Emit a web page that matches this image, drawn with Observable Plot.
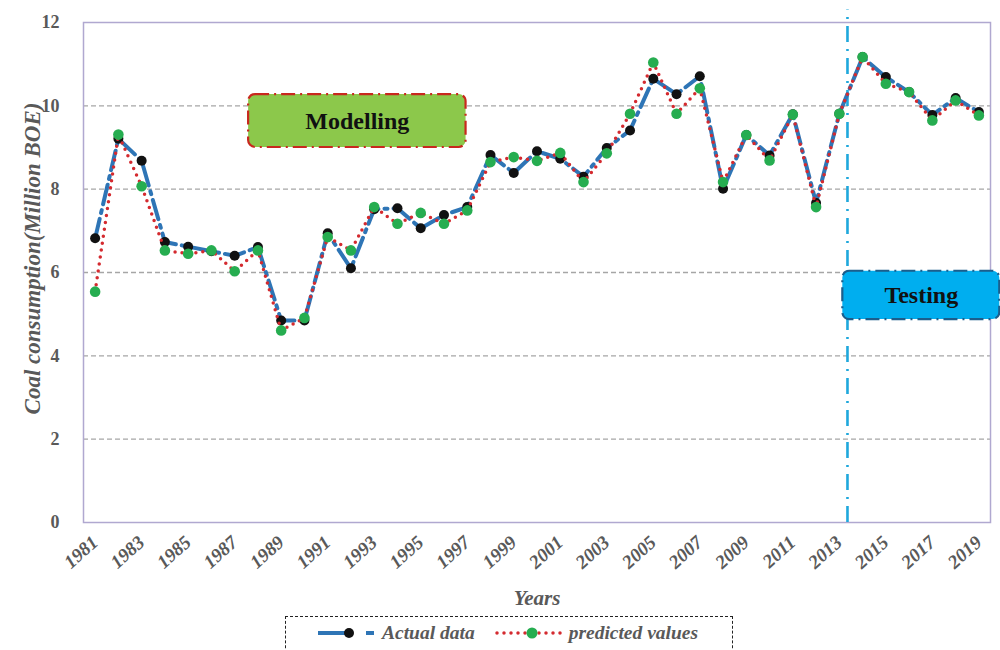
<!DOCTYPE html>
<html><head><meta charset="utf-8">
<script src="https://cdn.jsdelivr.net/npm/d3@7"></script>
<script src="https://cdn.jsdelivr.net/npm/@observablehq/plot@0.6"></script>
<style>
body{margin:0;background:#fff;font-family:"Liberation Serif","Times New Roman",serif;}
#wrap{position:relative;width:1000px;height:650px;overflow:hidden;}
#legend{position:absolute;left:285px;top:616px;width:448px;height:42px;border:1.6px dashed #222;box-sizing:border-box;display:flex;align-items:flex-start;padding-top:5px;font-style:italic;font-weight:bold;color:#595959;font-size:19.5px;}
#legend .item{display:flex;align-items:center;}
</style></head><body>
<div id="wrap">
<div id="chart"></div>
<div id="legend">
  <div class="item" style="margin-left:30px"><svg width="64" height="14"><line x1="2" y1="7" x2="30" y2="7" stroke="#2e75b6" stroke-width="4"/><circle cx="33" cy="7" r="5" fill="#111"/><line x1="50" y1="7" x2="58" y2="7" stroke="#2e75b6" stroke-width="4"/></svg><span style="margin-left:2px">Actual data</span></div>
  <div class="item" style="margin-left:20px"><svg width="70" height="14"><line x1="2" y1="7" x2="68" y2="7" stroke="#d42a2f" stroke-width="3.5" stroke-linecap="round" stroke-dasharray="0,7"/><circle cx="37" cy="7" r="5.5" fill="#26ad50"/></svg><span style="margin-left:4px">predicted values</span></div>
</div>
</div>
<script>
const years = [1981,1982,1983,1984,1985,1986,1987,1988,1989,1990,1991,1992,1993,1994,1995,1996,1997,1998,1999,2000,2001,2002,2003,2004,2005,2006,2007,2008,2009,2010,2011,2012,2013,2014,2015,2016,2017,2018,2019];
const actual = [6.82,9.21,8.68,6.73,6.62,6.51,6.40,6.61,4.85,4.85,6.94,6.10,7.52,7.54,7.06,7.38,7.57,8.82,8.39,8.91,8.73,8.30,8.99,9.41,10.65,10.28,10.71,8.01,9.30,8.81,9.80,7.67,9.81,11.17,10.69,10.33,9.78,10.19,9.85];
const predicted = [5.54,9.31,8.07,6.53,6.45,6.53,6.03,6.53,4.61,4.91,6.85,6.53,7.57,7.17,7.43,7.17,7.49,8.65,8.77,8.68,8.87,8.17,8.86,9.81,11.04,9.81,10.42,8.17,9.30,8.69,9.79,7.57,9.81,11.17,10.53,10.33,9.65,10.13,9.77];
const xTicks = [1981,1983,1985,1987,1989,1991,1993,1995,1997,1999,2001,2003,2005,2007,2009,2011,2013,2015,2017,2019];
const yTicks = [0,2,4,6,8,10,12];
const gridValues = [2,4,6,8,10];
const splitYear = 2013.35;
const phaseLabels = ["Modelling","Testing"];
const yLabel = "Coal consumption(Million BOE)";
const xLabel = "Years";

const actualData = years.map((y,i)=>({year:y, value:actual[i]}));
const predData = years.map((y,i)=>({year:y, value:predicted[i]}));

// annotation boxes placed in data space
const boxes = [
  {label:phaseLabels[0], x1:1987.6, x2:1996.95, y1:9.0, y2:10.27, fill:"#8cc84b", stroke:"#c8281e"},
  {label:phaseLabels[1], x1:2013.15, x2:2019.9, y1:4.87, y2:6.03, fill:"#00aeef", stroke:"#1b5e8c"}
];

const serif = "'Liberation Serif', 'Times New Roman', serif";
const chart = Plot.plot({
  width:1000, height:615,
  marginLeft:83, marginRight:10, marginTop:22, marginBottom:93,
  style:{fontFamily:serif, background:"#fff", overflow:"visible"},
  x:{domain:[1980.5,2019.5]},
  y:{domain:[0,12]},
  marks:[
    Plot.ruleY(gridValues,{stroke:"#a6a6a6", strokeWidth:1.3, strokeDasharray:"5,3"}),
    Plot.frame({stroke:"#b0a8d0", strokeWidth:1.5}),
    Plot.axisY(yTicks,{tickSize:0, tickPadding:24, fontSize:18, fontWeight:"bold", fill:"#595959", label:null}),
    Plot.axisX(xTicks,{tickSize:0, tickPadding:17, tickRotate:-42, fontSize:19, fontStyle:"italic", fontWeight:"bold", fill:"#595959",
      tickFormat:d=>String(d), label:null}),
    Plot.text([yLabel],{frameAnchor:"left", rotate:-90, textAnchor:"middle", dx:-51, dy:-14, fontSize:23, fontWeight:"bold", fontStyle:"italic", fill:"#595959", fontFamily:serif}),
    Plot.text([xLabel],{frameAnchor:"bottom", dy:82, fontSize:21, fontWeight:"bold", fontStyle:"italic", fill:"#595959", fontFamily:serif}),
    Plot.ruleX([splitYear],{y1:0, y2:12.3, stroke:"#1fa8dc", strokeWidth:2.6, strokeDasharray:"16,7,2,7"}),
    Plot.line(actualData,{x:"year", y:"value", stroke:"#2e75b6", strokeWidth:4, strokeDasharray:"20,6,3,6"}),
    Plot.dot(actualData,{x:"year", y:"value", r:5, fill:"#111", stroke:"none"}),
    Plot.line(predData,{x:"year", y:"value", stroke:"#d42a2f", strokeWidth:3.5, strokeLinecap:"round", strokeDasharray:"0,7"}),
    Plot.dot(predData,{x:"year", y:"value", r:5.3, fill:"#26ad50", stroke:"none"}),
    Plot.rect(boxes,{x1:"x1", x2:"x2", y1:"y1", y2:"y2", fill:"fill", stroke:"stroke", strokeWidth:2.2, strokeDasharray:"14,5,2,5", rx:7, clip:false}),
    Plot.text(boxes,{x:d=>(d.x1+d.x2)/2, y:d=>(d.y1+d.y2)/2, text:"label", fontSize:24, fontWeight:"bold", fill:"#111", fontFamily:serif})
  ]
});
document.getElementById("chart").appendChild(chart);
</script>
</body></html>
